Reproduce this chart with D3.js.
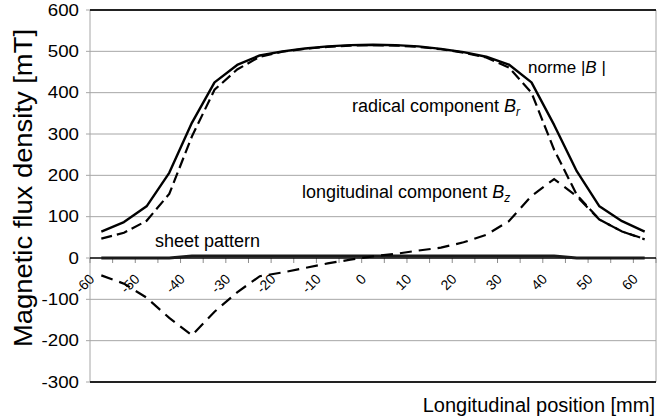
<!DOCTYPE html>
<html>
<head>
<meta charset="utf-8">
<script src="https://cdn.jsdelivr.net/npm/d3@7"></script>
<style>
  body { margin: 0; background: #fff; }
  text { font-family: "Liberation Sans", Arial, sans-serif; fill: #000; }
</style>
</head>
<body>
<div id="holder"></div>
<script>
const w = 660;
const h = 419;
const padLeft = 90, padRight = 656, padTop = 10, padBottom = 382;

// DATA (mT), positions in mm
const positions = [-60, -55, -50, -45, -40, -35, -30, -25, -20, -15, -10, -5, 0, 5, 10, 15, 20, 25, 30, 35, 40, 45, 50, 55, 60];
const normB = [64, 87, 125, 206, 327, 425, 467, 490, 500, 507, 512, 515, 516, 515, 512, 506, 498, 487, 468, 425, 322, 210, 125, 89, 64];
const radialB = [47, 61, 90, 155, 294, 407, 456, 487, 499, 506, 511, 514, 515, 514, 511, 505, 497, 485, 461, 400, 262, 153, 93, 64, 46];
const longB = [-42, -62, -96, -145, -187, -130, -83, -44, -35, -24, -13, -4, 4, 10, 18, 25, 38, 56, 89, 150, 191, 149, 93, 64, 45];
const sheet = [0, 0, 0, 0, 5, 5, 5, 5, 5, 5, 5, 5, 5, 5, 5, 5, 5, 5, 5, 5, 5, 0, 0, 0, 0];
const yTicks = [600, 500, 400, 300, 200, 100, 0, -100, -200, -300];
const xLabels = [-60, -50, -40, -30, -20, -10, 0, 10, 20, 30, 40, 50, 60];

// CREATE SVG
const svg = d3.select("#holder")
    .append("svg")
    .attr("width", w)
    .attr("height", h)

// SCALES
let xScale = d3.scaleBand()
    .domain(positions)
    .range([padLeft, padRight])

let cx = (d) => xScale(d) + xScale.bandwidth() / 2

let yScale = d3.scaleLinear()
    .domain([-300, 600])
    .range([padBottom, padTop])

// GRID
svg.append("g")
    .selectAll("line")
    .data(yTicks.filter(v => v != 0 && v != 600 && v != -300))
    .enter()
    .append("line")
    .attr("x1", padLeft)
    .attr("x2", padRight)
    .attr("y1", d => yScale(d))
    .attr("y2", d => yScale(d))
    .attr("stroke", "#a6a6a6")
    .attr("stroke-width", 1)

// FRAME: gray sides, dark top and bottom
svg.append("line").attr("x1", padLeft).attr("x2", padLeft).attr("y1", padTop).attr("y2", padBottom)
    .attr("stroke", "#a6a6a6")
svg.append("line").attr("x1", padRight).attr("x2", padRight).attr("y1", padTop).attr("y2", padBottom)
    .attr("stroke", "#a6a6a6")
svg.selectAll(".hb")
    .data([600, -300])
    .enter()
    .append("line")
    .attr("x1", padLeft)
    .attr("x2", padRight)
    .attr("y1", d => yScale(d))
    .attr("y2", d => yScale(d))
    .attr("stroke", "#222")
    .attr("stroke-width", 2)

// Y TICK LABELS
svg.append("g")
    .selectAll("text")
    .data(yTicks)
    .enter()
    .append("text")
    .attr("transform", d => "translate(79," + yScale(d) + ") scale(1.17,1)")
    .attr("text-anchor", "end")
    .attr("dy", "0.36em")
    .attr("font-size", 16)
    .text(d => d)

// small gray stubs left of the axis
svg.append("g")
    .selectAll("line")
    .data(yTicks)
    .enter()
    .append("line")
    .attr("x1", padLeft - 4)
    .attr("x2", padLeft)
    .attr("y1", d => yScale(d))
    .attr("y2", d => yScale(d))
    .attr("stroke", "#a6a6a6")

// X AXIS AT ZERO
let y0 = yScale(0)
let boundaries = positions.map(p => xScale(p)).concat([padRight])
svg.append("g")
    .selectAll("line")
    .data(boundaries)
    .enter()
    .append("line")
    .attr("x1", d => d)
    .attr("x2", d => d)
    .attr("y1", y0)
    .attr("y2", y0 + 5)
    .attr("stroke", "#8c8c8c")

svg.append("line")
    .attr("x1", padLeft)
    .attr("x2", padRight)
    .attr("y1", y0)
    .attr("y2", y0)
    .attr("stroke", "#000")
    .attr("stroke-width", 1.5)

svg.append("g")
    .selectAll("text")
    .data(xLabels)
    .enter()
    .append("text")
    .attr("transform", d => "translate(" + (cx(d) - 6) + "," + (y0 + 22) + ") rotate(-45)")
    .attr("text-anchor", "end")
    .attr("font-size", 14)
    .text(d => d)

// LINES
let line = (vals) => d3.line()
    .x((d, i) => cx(positions[i]))
    .y(d => yScale(d))(vals)

svg.append("path")
    .attr("d", line(sheet))
    .attr("fill", "none")
    .attr("stroke", "#1a1a1a")
    .attr("stroke-width", 3)

svg.append("path")
    .attr("d", line(longB))
    .attr("fill", "none")
    .attr("stroke", "#000")
    .attr("stroke-width", 2.2)
    .attr("stroke-dasharray", "12,7")

svg.append("path")
    .attr("d", line(radialB))
    .attr("fill", "none")
    .attr("stroke", "#000")
    .attr("stroke-width", 2.2)
    .attr("stroke-dasharray", "11,5")

svg.append("path")
    .attr("d", line(normB))
    .attr("fill", "none")
    .attr("stroke", "#000")
    .attr("stroke-width", 2.4)
    .attr("stroke-linejoin", "round")

// ANNOTATIONS
let note = svg.append("text").attr("x", 528).attr("y", 73).attr("font-size", 17)
note.append("tspan").text("norme |")
note.append("tspan").attr("font-style", "italic").text("B")
note.append("tspan").text(" |")

let br = svg.append("text").attr("x", 352).attr("y", 112).attr("font-size", 18)
br.append("tspan").text("radical component ")
br.append("tspan").attr("font-style", "italic").text("B")
br.append("tspan").attr("font-style", "italic").attr("font-size", 12).attr("dy", 4).text("r")

let bz = svg.append("text").attr("x", 302).attr("y", 198).attr("font-size", 18)
bz.append("tspan").text("longitudinal component ")
bz.append("tspan").attr("font-style", "italic").text("B")
bz.append("tspan").attr("font-style", "italic").attr("font-size", 12).attr("dy", 4).text("z")

svg.append("text")
    .attr("x", 155)
    .attr("y", 247)
    .attr("font-size", 18)
    .text("sheet pattern")

// AXIS TITLES
svg.append("text")
    .attr("x", 655)
    .attr("y", 412)
    .attr("text-anchor", "end")
    .attr("font-size", 20)
    .text("Longitudinal position [mm]")

svg.append("text")
    .attr("transform", "translate(32,188) rotate(-90)")
    .attr("text-anchor", "middle")
    .attr("font-size", 25)
    .attr("textLength", 318)
    .attr("lengthAdjust", "spacingAndGlyphs")
    .text("Magnetic flux density [mT]")
</script>
</body>
</html>
